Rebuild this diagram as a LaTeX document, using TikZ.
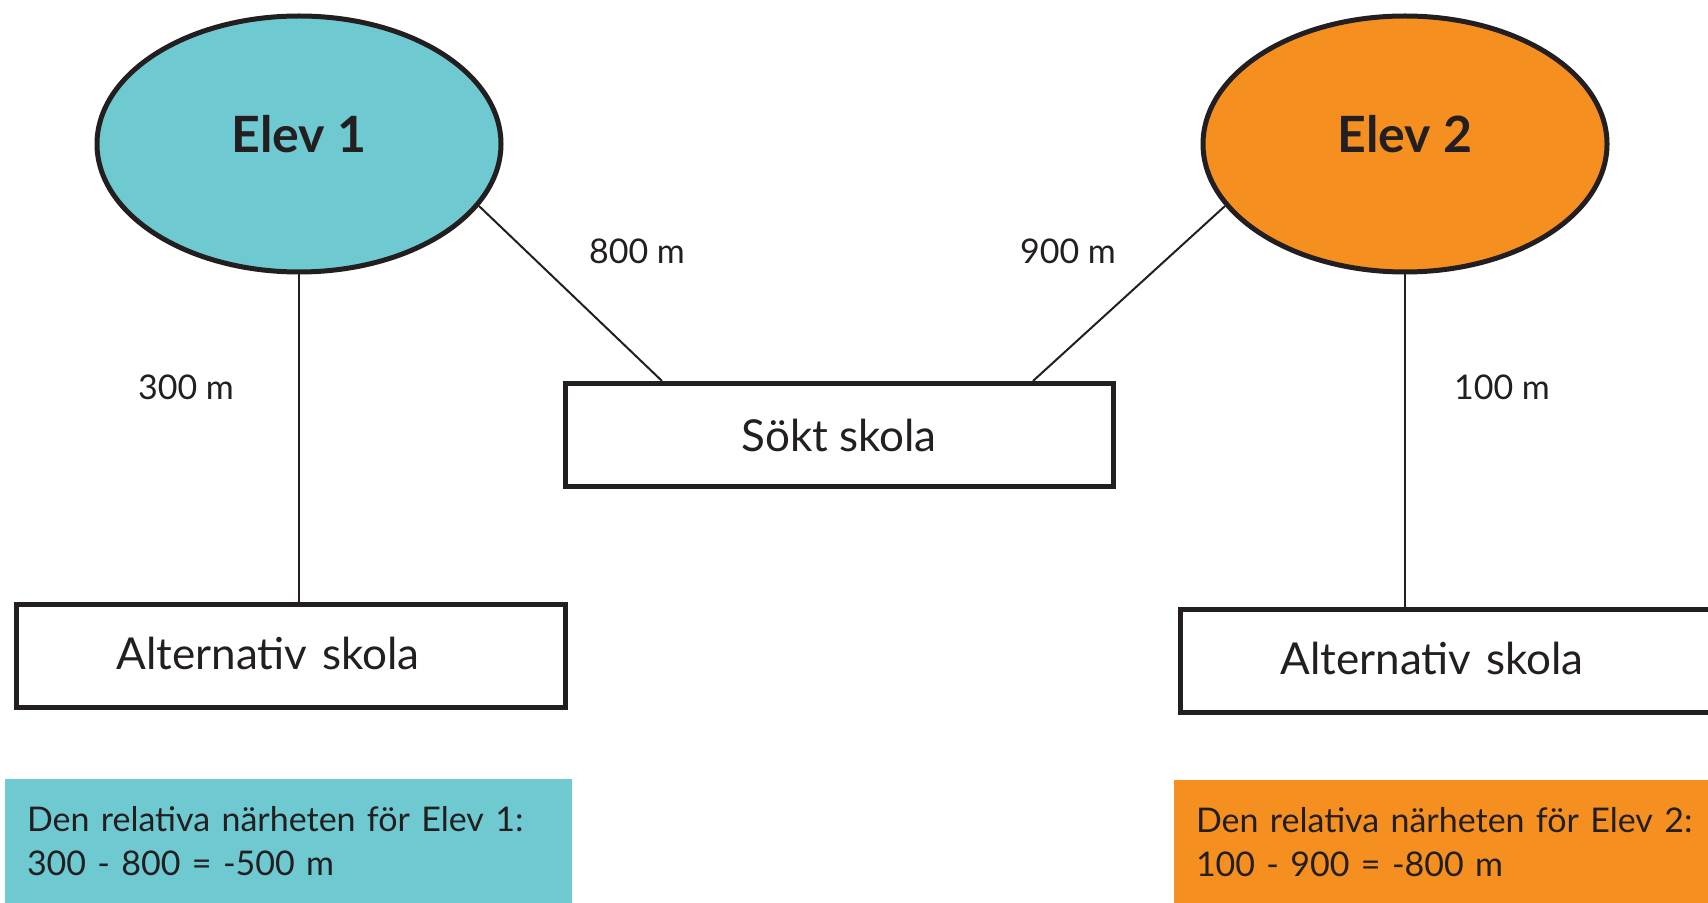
\documentclass[tikz,border=0pt]{standalone}
\usepackage{fontspec}
\setmainfont{Lato}
\usetikzlibrary{shapes.geometric}
\definecolor{elevteal}{RGB}{111,201,209}
\definecolor{elevorange}{RGB}{245,143,32}
\definecolor{inkdark}{RGB}{35,31,32}
\tikzset{every picture/.style={line width=1pt}}

\begin{document}
\begin{tikzpicture}[x=0.5pt,y=0.5pt,yscale=-1,
  elevnode/.style={ellipse, draw=inkdark, line width=2.5pt, minimum width=202pt, minimum height=128pt, inner sep=0pt, text depth=10pt, text=inkdark, font=\bfseries\fontsize{25}{29}\selectfont},
  skolabox/.style={rectangle, draw=inkdark, line width=2.5pt, minimum height=51.5pt, inner sep=0pt, text=inkdark, font=\fontsize{22}{26}\selectfont},
  notebox/.style={rectangle, anchor=north west, minimum height=62.5pt, inner xsep=11pt, inner ysep=0pt, align=left, text=inkdark, font=\fontsize{17}{22}\selectfont},
  avstand/.style={inner sep=0pt, text=inkdark, font=\fontsize{17}{20}\selectfont},
  link/.style={draw=inkdark, line width=1pt}]
\useasboundingbox (0,0) rectangle (1708,903);

% Elevs
\draw (299,144) node [elevnode, fill=elevteal] (elev1) {Elev 1};
\draw (1405,144) node [elevnode, fill=elevorange] (elev2) {Elev 2};

% Schools
\draw (839,435) node [skolabox, minimum width=274pt] (sokt) {Sökt skola};
\draw (14,602) node [skolabox, anchor=north west, inner xsep=50pt, text width=174.5pt, align=left, text depth=3pt] (altL) {Alternativ skola};
\draw (1178,607) node [skolabox, anchor=north west, inner xsep=50pt, text width=220pt, align=left, text depth=3pt] (altR) {Alternativ skola};

%Straight Lines
\draw [link] (elev1.south) -- (elev1.south |- altL.north) ;
\draw [link] (elev1.341) -- ([xshift=-88.5pt]sokt.north) ;
\draw [link] (elev2.199) -- ([xshift=97pt]sokt.north) ;
\draw [link] (elev2.south) -- (elev2.south |- altR.north) ;

% Text Node
\draw (637,251) node [avstand] (d800) {800 m};
\draw (1068,251) node [avstand] (d900) {900 m};
\draw (186,387) node [avstand] (d300) {300 m};
\draw (1502,387) node [avstand] (d100) {100 m};

% Notes
\draw (4,778) node [notebox, fill=elevteal, text width=261.5pt] (note1) {Den relativa närheten för Elev 1:\\300 - 800 = -500 m};
\draw (1173,779) node [notebox, fill=elevorange, text width=300pt] (note2) {Den relativa närheten för Elev 2:\\100 - 900 = -800 m};

\end{tikzpicture}
\end{document}
